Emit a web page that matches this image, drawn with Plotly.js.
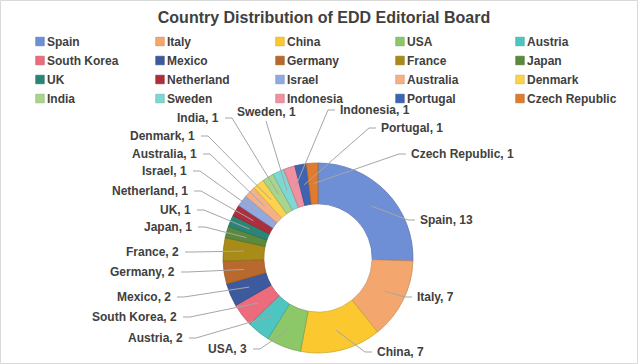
<!DOCTYPE html>
<html><head><meta charset="utf-8">
<script src="https://cdn.plot.ly/plotly-3.0.1.min.js"></script>
<style>html,body{margin:0;padding:0;background:#fff}#chart{width:638px;height:364px}</style>
</head><body><div id="chart"></div>
<script>
// ---- data ----
const countries = ['Spain','Italy','China','USA','Austria','South Korea','Mexico','Germany','France','Japan',
  'UK','Netherland','Israel','Australia','Denmark','India','Sweden','Indonesia','Portugal','Czech Republic'];
const members = [13,7,7,3,2,2,2,2,2,1,1,1,1,1,1,1,1,1,1,1];
const sliceColors = ['#6e8fd6','#f3a66d','#fbc82f','#8dc868','#4ec5c1','#ec6b7d','#3d5a9e','#b9692e','#a98c18','#5b8a3c',
  '#2b8577','#ab2f3c','#91a9e0','#f5b088','#fdd34d','#a9d58a','#7ed7d3','#f090a0','#3e63b3','#e07c30'];

// ---- layout constants (pixels) ----
const W = 638, H = 364;
const CX = 318, CY = 258, R = 95, HOLE = 0.57;
// label text anchor points: [x, y, align]
const labelSpots = [
  [418,220,'left'],[415,297,'left'],[375,352,'left'],[249,349,'right'],[185,338,'right'],
  [179,317,'right'],[173,297,'right'],[177,272,'right'],[181,252,'right'],[194,227,'right'],
  [193,210,'right'],[190,191,'right'],[189,171,'right'],[199,154,'right'],[197,136,'right'],
  [221,118,'right'],[266,112,'center'],[338,110,'left'],[379,128,'left'],[409,154,'left']
];

const fx = px => px / W;
const fy = py => 1 - py / H;

function darken(hex, f) {
  const n = parseInt(hex.slice(1), 16);
  const r = Math.round(((n >> 16) & 255) * f), g = Math.round(((n >> 8) & 255) * f), b = Math.round((n & 255) * f);
  return 'rgb(' + r + ',' + g + ',' + b + ')';
}

const total = members.reduce((a, b) => a + b, 0);
const annotations = [];
const shapes = [];
const rMid = R * (1 + HOLE) / 2;
let cum = 0;
members.forEach((v, i) => {
  const th = (cum + v / 2) / total * 2 * Math.PI;
  cum += v;
  const ax = CX + rMid * Math.sin(th), ay = CY - rMid * Math.cos(th);
  const [lx, ly, al] = labelSpots[i];
  annotations.push({
    xref: 'paper', yref: 'paper', x: fx(lx), y: fy(ly),
    xanchor: al, yanchor: 'middle', showarrow: false,
    text: countries[i] + ', ' + v,
    font: {family: 'Liberation Sans, Arial, sans-serif', size: 12, color: '#404040', weight: 'bold'}
  });
  let pts;
  if (al === 'left') pts = [[ax, ay], [lx - 10, ly], [lx - 3, ly]];
  else if (al === 'right') pts = [[ax, ay], [lx + 11, ly], [lx + 4, ly]];
  else pts = [[ax, ay], [lx, ly + 9]];
  shapes.push({
    type: 'path', xref: 'paper', yref: 'paper', layer: 'above',
    path: pts.map((p, k) => (k ? 'L' : 'M') + fx(p[0]).toFixed(5) + ',' + fy(p[1]).toFixed(5)).join(' '),
    line: {color: '#a6a6a6', width: 1}
  });
});
shapes.push({type: 'rect', xref: 'paper', yref: 'paper', x0: fx(0.5), x1: fx(W - 0.5), y0: fy(H - 0.5), y1: fy(0.5),
  line: {color: '#d9d9d9', width: 1}});

const trace = {
  type: 'pie', labels: countries, values: members, sort: false, direction: 'clockwise', rotation: 0,
  hole: HOLE, textinfo: 'none', hoverinfo: 'label+value',
  marker: {colors: sliceColors, line: {color: sliceColors.map(c => darken(c, 0.82)), width: 0.75}},
  domain: {x: [fx(CX - R), fx(CX + R)], y: [fy(CY + R), fy(CY - R)]}
};

const layout = {
  width: W, height: H, margin: {l: 0, r: 0, t: 0, b: 0, autoexpand: false},
  paper_bgcolor: '#ffffff',
  title: {text: 'Country Distribution of EDD Editorial Board', x: fx(324), xanchor: 'center', xref: 'container',
    y: fy(17), yanchor: 'middle', yref: 'container',
    font: {family: 'Liberation Sans, Arial, sans-serif', size: 16, color: '#404040', weight: 'bold'}},
  showlegend: true,
  legend: {orientation: 'h', x: fx(7), xanchor: 'left', y: fy(27), yanchor: 'top',
    entrywidth: 75, entrywidthmode: 'pixels', traceorder: 'normal', itemwidth: 30,
    bgcolor: 'rgba(0,0,0,0)',
    font: {family: 'Liberation Sans, Arial, sans-serif', size: 12, color: '#404040', weight: 'bold'}},
  annotations: annotations, shapes: shapes
};

Plotly.newPlot('chart', [trace], layout, {displayModeBar: false, staticPlot: true}).then(gd => {
  // let the last legend column's longest name show in full
  gd.querySelectorAll('.legend .scrollbox').forEach(el => el.removeAttribute('clip-path'));
  // smaller legend swatches sitting just left of their names
  gd.querySelectorAll('.legend .legendpoints path').forEach(el => el.setAttribute('transform', 'translate(33,0) scale(0.72)'));
});
</script>
</body></html>
